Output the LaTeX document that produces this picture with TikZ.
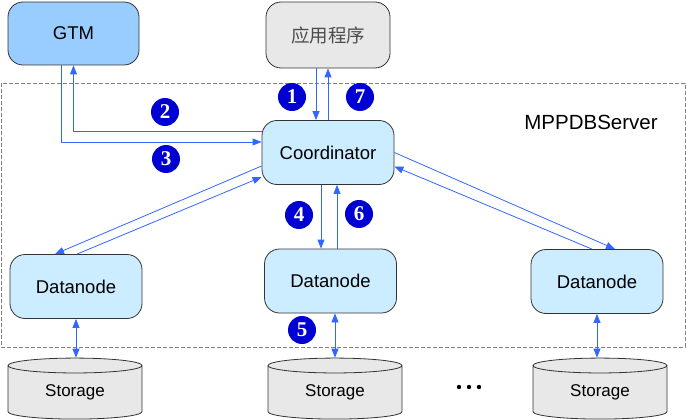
\documentclass[tikz,border=0pt]{standalone}
\usepackage{fontspec}
\setmainfont{Liberation Sans}
\newfontfamily\cjkfont{Noto Sans CJK SC}
\newfontfamily\numfont{Liberation Serif}
\usetikzlibrary{arrows.meta,calc,positioning,shapes.geometric}
\definecolor{flowblue}{RGB}{51,102,255}
\definecolor{gtmblue}{RGB}{153,204,255}
\definecolor{nodeblue}{RGB}{204,236,255}
\definecolor{appgray}{RGB}{232,232,232}
\definecolor{stepblue}{RGB}{0,0,210}
\tikzset{
arch/.style={x=1pt,y=-1pt,>={Triangle[length=9pt,width=7pt]},
font=\fontsize{18.5}{20}\selectfont},
box/.style={rectangle,rounded corners=15pt,draw=black!80,line width=0.8pt,
fill=nodeblue,minimum width=132pt,minimum height=64pt,inner sep=0pt},
store/.style={cylinder,shape border rotate=90,aspect=0.25,draw=black!80,
line width=0.8pt,fill=appgray,minimum width=134pt,minimum height=61pt,
inner sep=0pt,font=\fontsize{17}{19}\selectfont},
flow/.style={->,draw=flowblue,line width=0.8pt},
flow both/.style={<->,draw=flowblue,line width=0.8pt},
num/.style={circle,fill=stepblue,text=white,inner sep=0pt,minimum size=28pt,
font=\numfont\bfseries\fontsize{21}{21}\selectfont},
server/.style={draw=black!50,line width=0.7pt,dash pattern=on 4pt off 2pt},
}

\begin{document}
\begin{tikzpicture}[arch]
\useasboundingbox (0,0) rectangle (686,420);
\draw[server] (1,83) rectangle (685,347);
\node[font=\fontsize{20.5}{22}\selectfont] (srv) at (591,122) {MPPDBServer};

\node[box,fill=gtmblue,minimum width=131pt,minimum height=63pt] (gtm) at (73.5,33.5) {GTM};
\node[box,fill=appgray,minimum width=124pt,minimum height=66pt,text=black!70] (app) at (328,35) {\cjkfont 应用程序};
\node[box] (coord) at (328,152.5) {Coordinator};
\node[box] (dn1) at (76,286.5) {Datanode};
\node[box] (dn2) at (330.5,281) {Datanode};
\node[box] (dn3) at (597,281.5) {Datanode};

\node[store] (st1) at (75,392.5) {Storage};
\node[store] (st2) at (335,392.5) {Storage};
\node[store] (st3) at (600,392.5) {Storage};
\foreach \x in {459,469,479}
  \fill (\x,387) circle (2.2pt);

% application <-> coordinator
\draw[flow] ([xshift=-12pt]app.south) -- ([xshift=-12pt]app.south |- coord.north);
\draw[flow] (coord.north) -- (app.south);
% gtm
\draw[flow] ([yshift=21.5pt]coord.west) -| (gtm.south);
\draw[flow] ([xshift=-12.5pt]gtm.south) |- ([yshift=10.5pt]coord.west);
% datanodes
\draw[flow] ([xshift=-7pt]coord.south) -- ([xshift=-7pt]coord.south |- dn2.north);
\draw[flow] ([xshift=6.5pt]dn2.north) -- ([xshift=6.5pt]dn2.north |- coord.south);
\draw[flow] ([yshift=-13.5pt]coord.west) -- ([xshift=-21pt]dn1.north);
\draw[flow] ([xshift=1pt]dn1.north) -- ([yshift=-24.5pt]coord.west);
\draw[flow] (coord.east) -- ([xshift=18pt]dn3.north);
\draw[flow] ([xshift=-5pt]dn3.north) -- ([yshift=-14pt]coord.east);
% storage
\draw[flow both] (dn1.south) -- (dn1.south |- st1.north);
\draw[flow both] ([xshift=4.5pt]dn2.south) -- ([xshift=4.5pt]dn2.south |- st2.north);
\draw[flow both] (dn3.south) -- (dn3.south |- st3.north);

\node[num] (n1) at (292,97) {1};
\node[num] (n2) at (165,112) {2};
\node[num] (n3) at (166,159) {3};
\node[num] (n4) at (299,215) {4};
\node[num] (n5) at (302,330) {5};
\node[num] (n6) at (359,214) {6};
\node[num] (n7) at (360,97) {7};
\end{tikzpicture}
\end{document}
